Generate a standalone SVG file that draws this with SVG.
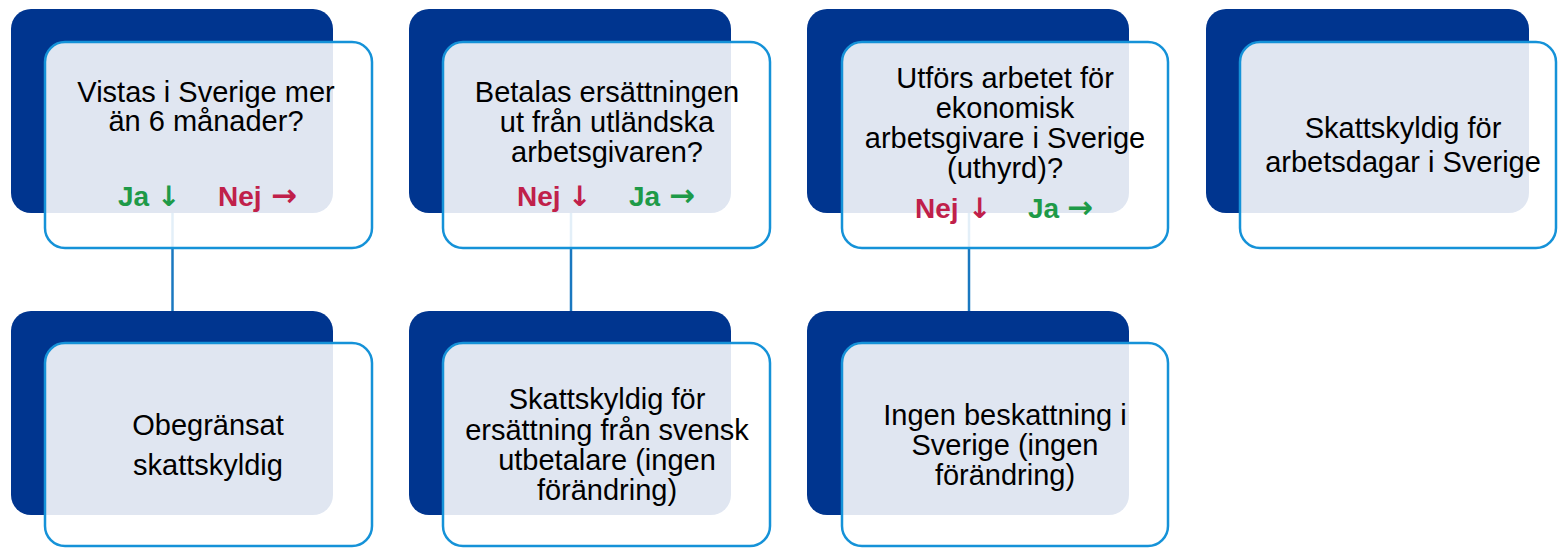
<svg xmlns="http://www.w3.org/2000/svg" width="1558" height="548" viewBox="0 0 1558 548">
<style>
.back{fill:#00358F;}
.front{fill:#FFFFFF;fill-opacity:0.88;stroke:#1592D8;stroke-width:2.5;}
.t{font-family:"Liberation Sans",Arial,sans-serif;font-size:29px;fill:#000;text-anchor:middle;}
.lbl{font-family:"Liberation Sans",Arial,sans-serif;font-size:28px;font-weight:bold;}
.arr{font-family:"DejaVu Sans",sans-serif;font-size:28px;font-weight:bold;}
.arr2{font-family:"DejaVu Sans",sans-serif;font-size:31px;font-weight:bold;}
.ja{fill:#1E9A48;}
.nej{fill:#C0204A;}
.conn{stroke:#1A78C0;stroke-width:2.5;fill:none;}
</style>
<rect width="1558" height="548" fill="#FFFFFF"/>
<g id="connectors">
<line class="conn" x1="172.5" y1="210" x2="172.5" y2="313"/>
<line class="conn" x1="571" y1="210" x2="571" y2="313"/>
<line class="conn" x1="969" y1="210" x2="969" y2="313"/>
</g>
<g id="q1">
<rect class="back" x="11" y="9" width="322" height="204" rx="20"/>
<rect class="front" x="45" y="42" width="327" height="206" rx="20"/>
<text class="t" x="206" y="102">Vistas i Sverige mer</text>
<text class="t" x="206" y="131">än 6 månader?</text>
<text class="lbl ja" x="118" y="206">Ja <tspan class="arr" x="157">↓</tspan></text>
<text class="lbl nej" x="218" y="206">Nej <tspan class="arr2" x="271">→</tspan></text>
</g>
<g id="q2">
<rect class="back" x="409" y="9" width="322" height="204" rx="20"/>
<rect class="front" x="443" y="42" width="327" height="206" rx="20"/>
<text class="t" x="607" y="102">Betalas ersättningen</text>
<text class="t" x="607" y="132">ut från utländska</text>
<text class="t" x="607" y="162">arbetsgivaren?</text>
<text class="lbl nej" x="517" y="206">Nej <tspan class="arr" x="568">↓</tspan></text>
<text class="lbl ja" x="629" y="206">Ja <tspan class="arr2" x="669">→</tspan></text>
</g>
<g id="q3">
<rect class="back" x="807" y="9" width="322" height="204" rx="20"/>
<rect class="front" x="842" y="42" width="326" height="206" rx="20"/>
<text class="t" x="1005" y="88">Utförs arbetet för</text>
<text class="t" x="1005" y="118">ekonomisk</text>
<text class="t" x="1005" y="148">arbetsgivare i Sverige</text>
<text class="t" x="1005" y="178">(uthyrd)?</text>
<text class="lbl nej" x="915" y="218">Nej <tspan class="arr" x="968">↓</tspan></text>
<text class="lbl ja" x="1028" y="218">Ja <tspan class="arr2" x="1067">→</tspan></text>
</g>
<g id="r4">
<rect class="back" x="1206" y="9" width="323" height="204" rx="20"/>
<rect class="front" x="1240" y="42" width="316" height="206" rx="20"/>
<text class="t" x="1403" y="138">Skattskyldig för</text>
<text class="t" x="1403" y="172">arbetsdagar i Sverige</text>
</g>
<g id="r1">
<rect class="back" x="11" y="311" width="322" height="204" rx="20"/>
<rect class="front" x="45" y="343" width="327" height="203" rx="20"/>
<text class="t" x="208" y="435">Obegränsat</text>
<text class="t" x="208" y="475">skattskyldig</text>
</g>
<g id="r2">
<rect class="back" x="409" y="311" width="322" height="204" rx="20"/>
<rect class="front" x="443" y="343" width="327" height="203" rx="20"/>
<text class="t" x="607" y="409">Skattskyldig för</text>
<text class="t" x="607" y="440">ersättning från svensk</text>
<text class="t" x="607" y="470">utbetalare (ingen</text>
<text class="t" x="607" y="500">förändring)</text>
</g>
<g id="r3">
<rect class="back" x="807" y="311" width="322" height="204" rx="20"/>
<rect class="front" x="842" y="343" width="326" height="203" rx="20"/>
<text class="t" x="1005" y="425">Ingen beskattning i</text>
<text class="t" x="1005" y="455">Sverige (ingen</text>
<text class="t" x="1005" y="485">förändring)</text>
</g>
</svg>
